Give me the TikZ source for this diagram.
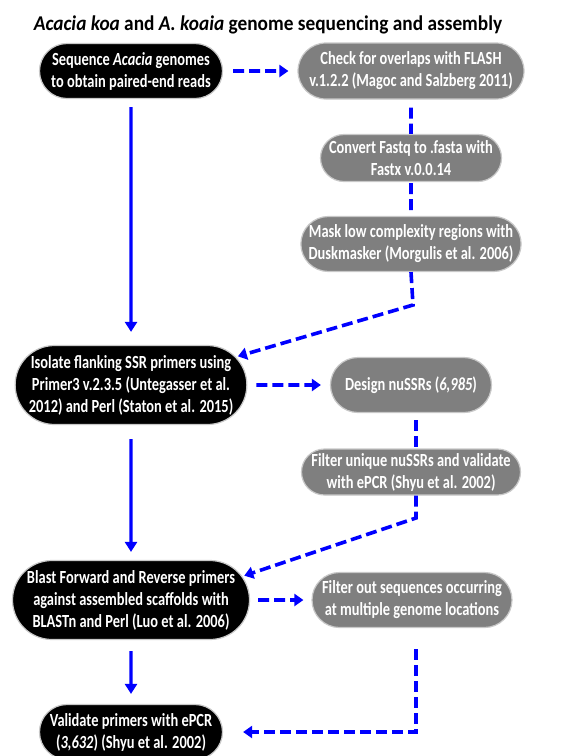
\documentclass[tikz,border=0pt]{standalone}
\usepackage{fontspec}
\setmainfont{Carlito}
\newfontfamily\boxfont[FakeStretch=0.78]{Carlito}
\newfontfamily\headfont[FakeStretch=0.92]{Carlito}
\usepackage{tikz}
\usetikzlibrary{positioning,shapes.misc,arrows.meta}

\definecolor{stepgray}{HTML}{7F7F7F}
\definecolor{rimgray}{HTML}{C8C8C8}
\definecolor{flowblue}{HTML}{0000FF}

\tikzset{
  mainbox/.style={rounded rectangle, fill=black, draw=rimgray, line width=1.2pt,
    text=white, align=center, inner sep=0pt,
    font=\boxfont\fontsize{18.5}{22}\selectfont\bfseries},
  sidebox/.style={mainbox, fill=stepgray},
  solidflow/.style={draw=flowblue, line width=3.2pt, -{Triangle[length=10pt,width=12pt]}},
  dashflow/.style={draw=flowblue, line width=3.6pt, dash pattern=on 11pt off 5pt},
  dasharrow/.style={dashflow, -{Triangle[length=9pt,width=12pt]}}
}

\begin{document}
\begin{tikzpicture}[x=1pt,y=-1pt,on grid]
   \useasboundingbox (0,0) rectangle (569,756);

   \node (title) at (268,25) {\headfont\fontsize{21}{25}\selectfont\bfseries
      \textit{Acacia koa} and \textit{A. koaia} genome sequencing and assembly};

   % left column
   \node[mainbox, minimum width=183pt, minimum height=55pt] (seq) at (131,71)
      {Sequence \textit{Acacia} genomes\\to obtain paired-end reads};
   \node[mainbox, minimum width=219pt, minimum height=79pt] (isolate) [below=314pt of seq]
      {Isolate flanking SSR primers using\\Primer3 v.2.3.5 (Untegasser et al.\\2012) and Perl (Staton et al. 2015)};
   \node[mainbox, minimum width=237pt, minimum height=79pt] (blast) [below=215pt of isolate]
      {Blast Forward and Reverse primers\\against assembled scaffolds with\\BLASTn and Perl (Luo et al. 2006)};
   \node[mainbox, minimum width=183pt, minimum height=55pt] (validate) [below=132pt of blast]
      {Validate primers with ePCR\\(\textit{3,632}) (Shyu et al. 2002)};

   % right column
   \node[sidebox, minimum width=226pt, minimum height=56pt] (flash) [right=280pt of seq]
      {Check for overlaps with FLASH\\v.1.2.2 (Magoc and Salzberg 2011)};
   \node[sidebox, minimum width=181pt, minimum height=47pt] (convert) [below=87pt of flash]
      {Convert Fastq to .fasta with\\Fastx v.0.0.14};
   \node[sidebox, minimum width=220pt, minimum height=55pt] (mask) [below=86pt of convert]
      {Mask low complexity regions with\\Duskmasker (Morgulis et al. 2006)};
   \node[sidebox, minimum width=161pt, minimum height=55pt] (design) [right=280pt of isolate]
      {Design nuSSRs (\textit{6,985})};
   \node[sidebox, minimum width=219pt, minimum height=46pt] (filter) [below=87pt of design]
      {Filter unique nuSSRs and validate\\with ePCR (Shyu et al. 2002)};
   \node[sidebox, minimum width=200pt, minimum height=55pt] (filterout) [right=281pt of blast]
      {Filter out sequences occurring\\at multiple genome locations};

   \coordinate (bendA) at (413,305);
   \coordinate (bendB) at (416,518);

   % main flow
   \path[solidflow, shorten <=8pt, shorten >=13pt] (seq) -- (isolate);
   \path[solidflow, shorten <=14pt, shorten >=8pt] (isolate) -- (blast);
   \path[solidflow, shorten <=11pt, shorten >=10pt] (blast) -- (validate);

   % side flow
   \path[dasharrow, shorten <=10pt, shorten >=9pt] (seq) -- (flash);
   \path[dashflow, shorten <=8pt] (flash) -- (convert);
   \path[dashflow, shorten <=1pt, shorten >=1pt] (convert) -- (mask);
   \path[dasharrow, shorten >=2pt] (mask.south) -- (bendA) -- (isolate.15);
   \path[dasharrow, shorten <=9pt, shorten >=9pt] (isolate) -- (design);
   \path[dashflow, shorten <=7pt] (design.south -| bendB) -- (filter.north -| bendB);
   \path[dasharrow, shorten >=2pt] (filter.south -| bendB) -- (bendB) -- (blast.12);
   \path[dasharrow, shorten <=8pt, shorten >=8pt] (blast) -- (filterout);
   \path[dasharrow, shorten <=21pt, shorten >=20pt] (filterout.south -| bendB) |- (validate.east);
\end{tikzpicture}
\end{document}
